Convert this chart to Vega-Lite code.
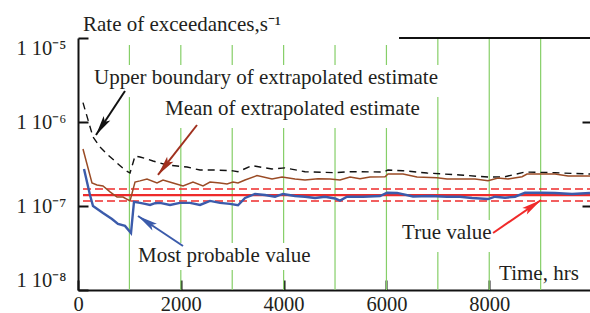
{
 "$schema": "https://vega.github.io/schema/vega-lite/v6.json",
 "width": 512, "height": 252,
 "autosize": {"type": "none"},
 "padding": {"left": 78, "top": 38, "right": 0, "bottom": 23},
 "background": "white",
 "config": {"view": {"stroke": null}, "font": "Liberation Serif", "text": {"font": "Liberation Serif"}},
 "resolve": {"axis": {"y": "independent", "x": "independent"}},
 "datasets": {
  "grid": [
   {"t":1000,"v1":8.25e-6,"v2":4.77e-6},{"t":1000,"v1":1.98e-6,"v2":1e-8},
   {"t":2000,"v1":8.25e-6,"v2":4.77e-6},{"t":2000,"v1":8.48e-7,"v2":3.63e-8},{"t":2000,"v1":1.73e-8,"v2":1e-8},
   {"t":3000,"v1":8.25e-6,"v2":4.77e-6},{"t":3000,"v1":8.48e-7,"v2":3.63e-8},{"t":3000,"v1":1.73e-8,"v2":1e-8},
   {"t":4000,"v1":8.25e-6,"v2":4.77e-6},{"t":4000,"v1":8.48e-7,"v2":3.63e-8},{"t":4000,"v1":1.73e-8,"v2":1e-8},
   {"t":5000,"v1":8.25e-6,"v2":4.77e-6},{"t":5000,"v1":8.48e-7,"v2":1e-8},
   {"t":6000,"v1":8.25e-6,"v2":4.77e-6},{"t":6000,"v1":8.48e-7,"v2":1e-8},
   {"t":7000,"v1":1e-5,"v2":4.77e-6},{"t":7000,"v1":1.98e-6,"v2":6.81e-8},{"t":7000,"v1":2.83e-8,"v2":1e-8},
   {"t":8000,"v1":1e-5,"v2":6.81e-8},{"t":8000,"v1":2.83e-8,"v2":1e-8},
   {"t":9000,"v1":1e-5,"v2":1e-8}
  ],
  "truth": [
   {"t":97,"v":1.35e-7,"k":"mid"},{"t":9960,"v":1.35e-7,"k":"mid"},
   {"t":97,"v":1.59e-7,"k":"hi"},{"t":9960,"v":1.59e-7,"k":"hi"},
   {"t":97,"v":1.15e-7,"k":"lo"},{"t":9960,"v":1.15e-7,"k":"lo"}
  ],
  "blue": [
   {"t":117,"v":2.76e-7},{"t":233,"v":1.35e-7},{"t":292,"v":1.0e-7},{"t":486,"v":8.25e-8},{"t":661,"v":7.0e-8},
   {"t":778,"v":6.1e-8},{"t":914,"v":5.8e-8},{"t":1031,"v":4.77e-8},{"t":1089,"v":1.12e-7},{"t":1206,"v":1.09e-7},
   {"t":1304,"v":1.06e-7},{"t":1401,"v":1.03e-7},{"t":1500,"v":1.08e-7},{"t":1595,"v":1.09e-7},{"t":1790,"v":1.03e-7},
   {"t":1984,"v":1.09e-7},{"t":2179,"v":1.09e-7},{"t":2374,"v":1.03e-7},{"t":2568,"v":1.15e-7},{"t":2763,"v":1.09e-7},
   {"t":2957,"v":1.06e-7},{"t":3113,"v":1.02e-7},{"t":3249,"v":1.245e-7},{"t":3444,"v":1.39e-7},{"t":3638,"v":1.35e-7},
   {"t":3833,"v":1.29e-7},{"t":3988,"v":1.39e-7},{"t":4222,"v":1.315e-7},{"t":4416,"v":1.29e-7},{"t":4611,"v":1.245e-7},
   {"t":4805,"v":1.29e-7},{"t":5000,"v":1.23e-7},{"t":5097,"v":1.16e-7},{"t":5233,"v":1.29e-7},{"t":5545,"v":1.29e-7},
   {"t":5875,"v":1.315e-7},{"t":6012,"v":1.44e-7},{"t":6206,"v":1.43e-7},{"t":6518,"v":1.3e-7},{"t":6848,"v":1.315e-7},
   {"t":7179,"v":1.29e-7},{"t":7432,"v":1.29e-7},{"t":7665,"v":1.245e-7},{"t":7977,"v":1.21e-7},{"t":8113,"v":1.29e-7},
   {"t":8307,"v":1.255e-7},{"t":8502,"v":1.29e-7},{"t":8696,"v":1.44e-7},{"t":9027,"v":1.44e-7},{"t":9280,"v":1.43e-7},
   {"t":9611,"v":1.39e-7},{"t":9960,"v":1.43e-7}
  ],
  "brown": [
   {"t":97,"v":4.77e-7},{"t":272,"v":1.88e-7},{"t":370,"v":1.78e-7},{"t":486,"v":1.73e-7},{"t":623,"v":1.47e-7},
   {"t":759,"v":1.28e-7},{"t":875,"v":1.28e-7},{"t":1012,"v":1.15e-7},{"t":1109,"v":1.93e-7},{"t":1206,"v":1.99e-7},
   {"t":1342,"v":2.1e-7},{"t":1537,"v":1.88e-7},{"t":1654,"v":2.04e-7},{"t":1848,"v":1.88e-7},{"t":2043,"v":1.73e-7},
   {"t":2237,"v":1.93e-7},{"t":2432,"v":1.73e-7},{"t":2568,"v":1.93e-7},{"t":2763,"v":1.88e-7},{"t":2899,"v":1.83e-7},
   {"t":3016,"v":1.93e-7},{"t":3113,"v":1.88e-7},{"t":3249,"v":2.04e-7},{"t":3482,"v":2.3e-7},{"t":3774,"v":2.1e-7},
   {"t":3969,"v":2.21e-7},{"t":4222,"v":2.1e-7},{"t":4416,"v":2.04e-7},{"t":4669,"v":2.11e-7},{"t":4903,"v":2.1e-7},
   {"t":5097,"v":2.04e-7},{"t":5292,"v":2.21e-7},{"t":5486,"v":2.11e-7},{"t":5681,"v":2.21e-7},{"t":5973,"v":2.23e-7},
   {"t":6031,"v":2.4e-7},{"t":6323,"v":2.4e-7},{"t":6595,"v":2.21e-7},{"t":6984,"v":2.17e-7},{"t":7179,"v":2.1e-7},
   {"t":7432,"v":2.1e-7},{"t":7724,"v":2.1e-7},{"t":7977,"v":2.0e-7},{"t":8171,"v":2.15e-7},{"t":8366,"v":2.1e-7},
   {"t":8638,"v":2.23e-7},{"t":8735,"v":2.4e-7},{"t":9280,"v":2.4e-7},{"t":9533,"v":2.28e-7},{"t":9960,"v":2.28e-7}
  ],
  "bound": [
   {"t":97,"v":1.7e-6},{"t":195,"v":1.06e-6},{"t":292,"v":6.63e-7},{"t":428,"v":5.04e-7},{"t":584,"v":4.05e-7},
   {"t":759,"v":3.25e-7},{"t":914,"v":2.68e-7},{"t":1012,"v":2.47e-7},{"t":1109,"v":3.94e-7},{"t":1206,"v":3.83e-7},
   {"t":1342,"v":3.63e-7},{"t":1459,"v":3.43e-7},{"t":1595,"v":3.25e-7},{"t":1732,"v":3.08e-7},{"t":1926,"v":2.99e-7},
   {"t":2121,"v":2.91e-7},{"t":2374,"v":2.68e-7},{"t":2704,"v":2.68e-7},{"t":3016,"v":2.62e-7},{"t":3113,"v":2.56e-7},
   {"t":3385,"v":3.02e-7},{"t":3774,"v":2.76e-7},{"t":4027,"v":2.84e-7},{"t":4416,"v":2.56e-7},{"t":5000,"v":2.49e-7},
   {"t":5292,"v":2.56e-7},{"t":5934,"v":2.54e-7},{"t":6031,"v":2.68e-7},{"t":6323,"v":2.63e-7},{"t":6790,"v":2.47e-7},
   {"t":7432,"v":2.34e-7},{"t":7977,"v":2.21e-7},{"t":8307,"v":2.23e-7},{"t":8696,"v":2.54e-7},{"t":9280,"v":2.49e-7},
   {"t":9960,"v":2.4e-7}
  ],
  "top": [{"t1":6245,"t2":9960,"v":1e-5}],
  "arrows": [
   {"id":"upper","t1":914,"v1":2.34e-6,"t2":350,"v2":7.0e-7},
   {"id":"mean","t1":2315,"v1":9.21e-7,"t2":1556,"v2":2.34e-7},
   {"id":"mpv","t1":2043,"v1":3.34e-8,"t2":1167,"v2":7.6e-8},
   {"id":"true","t1":8074,"v1":4.77e-8,"t2":9008,"v2":1.18e-7}
  ],
  "labels": [
   {"text":"Rate of exceedances,s⁻¹","t":97,"v":1.21e-5},
   {"text":"Upper boundary of extrapolated estimate","t":311,"v":2.83e-6},
   {"text":"Mean of extrapolated estimate","t":1693,"v":1.21e-6},
   {"text":"Most probable value","t":1167,"v":2.15e-8},
   {"text":"True value","t":6304,"v":4.05e-8},
   {"text":"Time, hrs","t":8191,"v":1.315e-8}
  ]
 },
 "layer": [
  {
   "data": {"name": "grid"},
   "mark": {"type": "rule", "color": "#86cf68", "strokeWidth": 1.2},
   "encoding": {
    "x": {"field": "t", "type": "quantitative",
      "scale": {"domain": [0, 9960], "nice": false, "zero": false},
      "axis": {"values": [0, 2000, 4000, 6000, 8000], "format": "d", "title": null, "grid": false,
        "domainColor": "#111", "domainWidth": 2, "tickColor": "#111", "tickWidth": 2, "tickSize": -10,
        "labelFont": "Liberation Serif", "labelFontSize": 20.5, "labelColor": "#231f20", "labelPadding": 14,
        "labelFlush": false, "labelOverlap": false}},
    "y": {"field": "v1", "type": "quantitative",
      "scale": {"type": "log", "domain": [1e-8, 1e-5], "nice": false},
      "axis": {"values": [1e-8, 1e-7, 1e-6, 1e-5], "title": null, "grid": false,
        "domainColor": "#111", "domainWidth": 2, "tickColor": "#111", "tickWidth": 2, "tickSize": -10,
        "labelFont": "Liberation Serif", "labelFontSize": 20.5, "labelColor": "#231f20", "labelPadding": 22,
        "labelFlush": true, "labelOverlap": false,
        "labelExpr": "'1 10' + (datum.value >= 5e-6 ? '⁻⁵' : datum.value >= 5e-7 ? '⁻⁶' : datum.value >= 5e-8 ? '⁻⁷' : '⁻⁸')"}},
    "y2": {"field": "v2"}
   }
  },
  {
   "data": {"name": "top"},
   "mark": {"type": "rule", "color": "#111", "strokeWidth": 2},
   "encoding": {
    "x": {"field": "t1", "type": "quantitative", "axis": null},
    "x2": {"field": "t2"},
    "y": {"field": "v", "type": "quantitative",
      "axis": {"orient": "right", "values": [1e-7, 1e-6], "title": null, "grid": false, "domain": false,
        "labels": false, "tickColor": "#111", "tickWidth": 2, "tickSize": -8}}
   }
  },
  {
   "data": {"name": "truth"},
   "transform": [{"filter": "datum.k != 'mid'"}],
   "mark": {"type": "line", "color": "#ee2b2b", "strokeWidth": 1.5, "strokeDash": [8, 4]},
   "encoding": {
    "x": {"field": "t", "type": "quantitative", "axis": null},
    "y": {"field": "v", "type": "quantitative", "axis": null},
    "detail": {"field": "k"}
   }
  },
  {
   "data": {"name": "truth"},
   "transform": [{"filter": "datum.k == 'mid'"}],
   "mark": {"type": "line", "color": "#ee2b2b", "strokeWidth": 2.2},
   "encoding": {
    "x": {"field": "t", "type": "quantitative", "axis": null},
    "y": {"field": "v", "type": "quantitative", "axis": null}
   }
  },
  {
   "data": {"name": "bound"},
   "mark": {"type": "line", "color": "#111", "strokeWidth": 1.4, "strokeDash": [7, 5]},
   "encoding": {
    "x": {"field": "t", "type": "quantitative", "axis": null},
    "y": {"field": "v", "type": "quantitative", "axis": null}
   }
  },
  {
   "data": {"name": "brown"},
   "mark": {"type": "line", "color": "#9a4b25", "strokeWidth": 1.5},
   "encoding": {
    "x": {"field": "t", "type": "quantitative", "axis": null},
    "y": {"field": "v", "type": "quantitative", "axis": null}
   }
  },
  {
   "data": {"name": "blue"},
   "mark": {"type": "line", "color": "#3b5bab", "strokeWidth": 2.4},
   "encoding": {
    "x": {"field": "t", "type": "quantitative", "axis": null},
    "y": {"field": "v", "type": "quantitative", "axis": null}
   }
  },
  {
   "data": {"name": "arrows"},
   "mark": {"type": "rule", "strokeWidth": 2},
   "encoding": {
    "x": {"field": "t1", "type": "quantitative", "axis": null},
    "y": {"field": "v1", "type": "quantitative", "axis": null},
    "x2": {"field": "t2"},
    "y2": {"field": "v2"},
    "color": {"field": "id", "type": "nominal", "legend": null,
      "scale": {"domain": ["upper", "mean", "mpv", "true"], "range": ["#111111", "#a0301e", "#3b5bab", "#f02a2a"]}}
   }
  },
  {
   "data": {"name": "arrows"},
   "transform": [{"filter": "datum.id == 'upper'"}],
   "mark": {"type": "point", "shape": "M0,0L-0.4,2L0,1.6L0.4,2Z", "filled": true, "size": 400, "angle": 213.4, "color": "#111111", "opacity": 1, "strokeWidth": 0},
   "encoding": {
    "x": {"field": "t2", "type": "quantitative", "axis": null},
    "y": {"field": "v2", "type": "quantitative", "axis": null}
   }
  },
  {
   "data": {"name": "arrows"},
   "transform": [{"filter": "datum.id == 'mean'"}],
   "mark": {"type": "point", "shape": "M0,0L-0.4,2L0,1.6L0.4,2Z", "filled": true, "size": 400, "angle": 217.9, "color": "#a0301e", "opacity": 1, "strokeWidth": 0},
   "encoding": {
    "x": {"field": "t2", "type": "quantitative", "axis": null},
    "y": {"field": "v2", "type": "quantitative", "axis": null}
   }
  },
  {
   "data": {"name": "arrows"},
   "transform": [{"filter": "datum.id == 'mpv'"}],
   "mark": {"type": "point", "shape": "M0,0L-0.4,2L0,1.6L0.4,2Z", "filled": true, "size": 400, "angle": 303.7, "color": "#3b5bab", "opacity": 1, "strokeWidth": 0},
   "encoding": {
    "x": {"field": "t2", "type": "quantitative", "axis": null},
    "y": {"field": "v2", "type": "quantitative", "axis": null}
   }
  },
  {
   "data": {"name": "arrows"},
   "transform": [{"filter": "datum.id == 'true'"}],
   "mark": {"type": "point", "shape": "M0,0L-0.4,2L0,1.6L0.4,2Z", "filled": true, "size": 400, "angle": 55.5, "color": "#f02a2a", "opacity": 1, "strokeWidth": 0},
   "encoding": {
    "x": {"field": "t2", "type": "quantitative", "axis": null},
    "y": {"field": "v2", "type": "quantitative", "axis": null}
   }
  },
  {
   "data": {"name": "labels"},
   "mark": {"type": "text", "align": "left", "baseline": "alphabetic", "font": "Liberation Serif", "fontSize": 21, "color": "#231f20"},
   "encoding": {
    "x": {"field": "t", "type": "quantitative", "axis": null},
    "y": {"field": "v", "type": "quantitative", "axis": null},
    "text": {"field": "text"}
   }
  }
 ]
}
